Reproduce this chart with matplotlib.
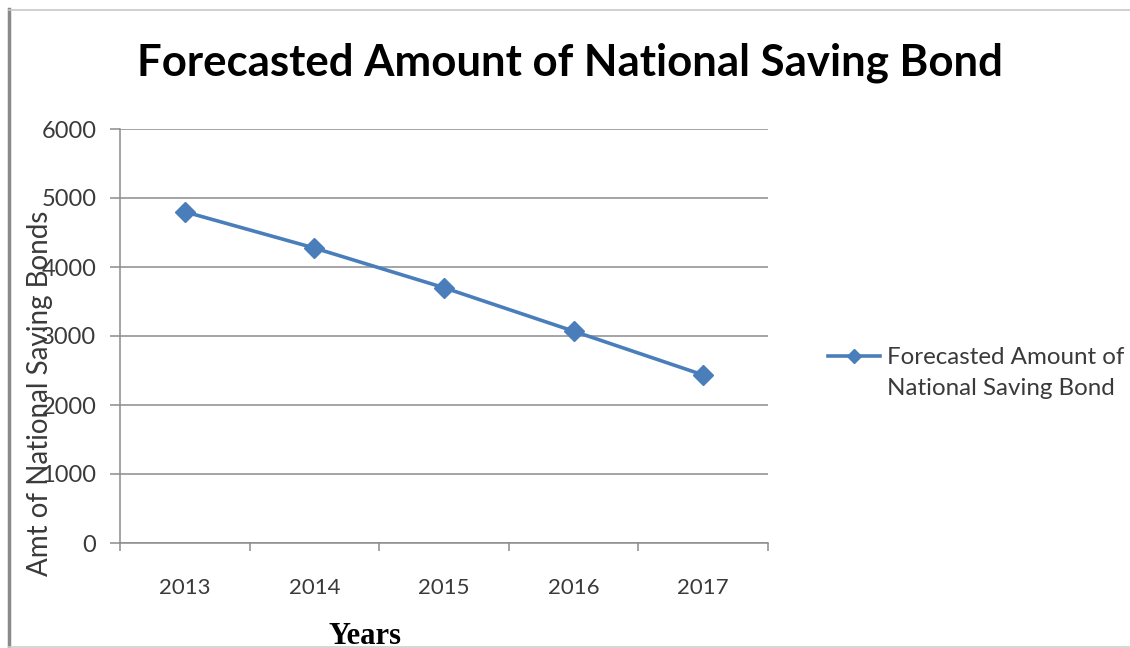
import matplotlib
matplotlib.use("Agg")
import matplotlib.pyplot as plt
from matplotlib.lines import Line2D

# Forecast figures
years = ["2013", "2014", "2015", "2016", "2017"]
amounts = [4800, 4275, 3700, 3070, 2435]
series_name = "Forecasted Amount of\nNational Saving Bond"
y_ticks = [0, 1000, 2000, 3000, 4000, 5000, 6000]

W, H = 1130, 648
LINE_BLUE = "#4A7EBB"
GRID_GRAY = "#8C8C8C"
TEXT_GRAY = "#3A3A3A"

plt.rcParams["font.family"] = ["Lato", "DejaVu Sans"]

fig = plt.figure(figsize=(W / 100, H / 100), dpi=100)
fig.patch.set_facecolor("white")

# plot area in pixels: x 120..768, y 129..543
ax = fig.add_axes([120 / W, 1 - 543 / H, 648 / W, 414 / H])

xs = list(range(len(years)))
ax.plot(xs, amounts, color=LINE_BLUE, lw=2.6, marker="D", markersize=10,
        markerfacecolor=LINE_BLUE, markeredgecolor=LINE_BLUE, zorder=3)

ax.set_xlim(-0.5, len(years) - 0.5)
ax.set_ylim(0, 6000)
ax.set_yticks(y_ticks)
ax.set_yticklabels([str(v) for v in y_ticks])
ax.set_xticks(xs)
ax.set_xticklabels(years)
ax.set_xticks([i - 0.5 for i in range(len(years) + 1)], minor=True)

ax.grid(axis="y", color=GRID_GRAY, lw=1.1)
ax.set_axisbelow(True)
for side in ["top", "right"]:
    ax.spines[side].set_visible(False)
for side in ["left", "bottom"]:
    ax.spines[side].set_color(GRID_GRAY)
    ax.spines[side].set_linewidth(1.1)

ax.tick_params(axis="y", direction="out", length=7, width=1.1, color=GRID_GRAY,
               pad=10, labelsize=17, labelcolor=TEXT_GRAY)
ax.tick_params(axis="x", which="major", length=0, pad=25, labelsize=16,
               labelcolor=TEXT_GRAY)
ax.tick_params(axis="x", which="minor", direction="out", length=6, width=1.1,
               color=GRID_GRAY)

# title and axis labels (the y label sits over the tick numbers)
fig.text(570 / W, 1 - 63 / H, "Forecasted Amount of National Saving Bond",
         ha="center", va="center", fontsize=31.5, fontweight="bold", color="black")
fig.text(40 / W, 1 - 393 / H, "Amt of National Saving Bonds", rotation=90,
         ha="center", va="center", fontsize=20, color=TEXT_GRAY)
fig.text(365 / W, 1 - 644 / H, "Years", ha="center", va="baseline",
         fontsize=22, fontweight="bold", family=["Liberation Serif", "DejaVu Serif"],
         color="black")

# legend entry
ly = 1 - 356 / H
fig.add_artist(Line2D([828 / W, 854 / W, 880 / W], [ly, ly, ly], color=LINE_BLUE,
                      lw=2.6, marker="D", markersize=7, markevery=[1],
                      markerfacecolor=LINE_BLUE, markeredgecolor=LINE_BLUE))
fig.text(887 / W, 1 - 347 / H, series_name, ha="left", va="top",
         fontsize=17.4, color=TEXT_GRAY, linespacing=1.6)

# outer chart frame
fig.add_artist(Line2D([9 / W, 9 / W], [1 - 9 / H, 0], color="#8A8A8A", lw=2.5))
fig.add_artist(Line2D([9 / W, 1], [1 - 9.5 / H, 1 - 9.5 / H], color="#C8C8C8", lw=1.2))
fig.add_artist(Line2D([9 / W, 1], [1 - 646.5 / H, 1 - 646.5 / H], color="#D0D0D0", lw=1.2))

fig.savefig("out.png", dpi=100, facecolor="white")
